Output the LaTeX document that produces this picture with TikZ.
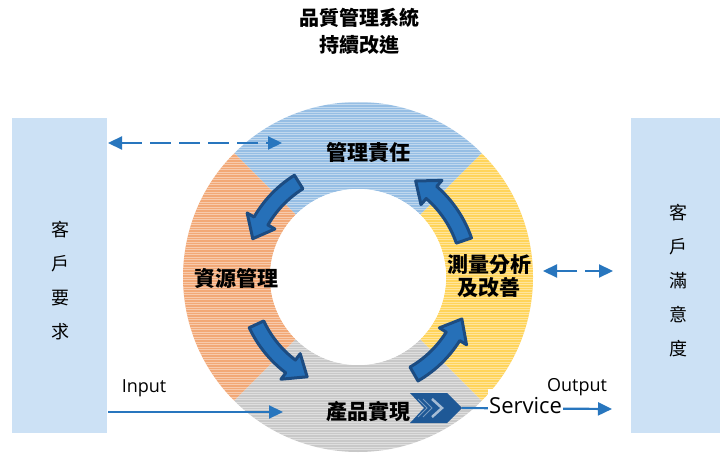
\documentclass[tikz,border=0pt]{standalone}
\usepackage{fontspec}
\setmainfont{Open Sans}
\newfontfamily\cjk{Noto Sans CJK TC}
\usetikzlibrary{calc,arrows.meta}
\definecolor{qblue}{RGB}{150,190,228}
\definecolor{qorange}{RGB}{242,168,118}
\definecolor{qgray}{RGB}{200,200,200}
\definecolor{qyellow}{RGB}{255,212,90}
\definecolor{sidebox}{RGB}{204,225,245}
\definecolor{linkblue}{RGB}{40,118,190}
\definecolor{arrfill}{RGB}{38,112,184}
\definecolor{arrdark}{RGB}{28,76,130}
\definecolor{chevdark}{RGB}{30,88,150}
\tikzset{
  sidepanel/.style={fill=sidebox, draw=none, inner sep=0pt},
  sidetext/.style={font=\cjk\fontsize{18}{34}\selectfont, align=center, inner sep=0pt},
  ringlabel/.style={font=\cjk\bfseries\fontsize{21}{23}\selectfont, align=center, inner sep=0pt},
  titletext/.style={font=\cjk\bfseries\fontsize{20}{27}\selectfont, align=center, inner sep=0pt},
  flowlabel/.style={font=\fontsize{18}{20}\selectfont, inner sep=0pt},
  link/.style={draw=linkblue, line width=2.2pt, -{Triangle[length=14pt,width=13pt]}},
  duallink/.style={draw=linkblue, line width=2.2pt, {Triangle[length=14pt,width=13pt]}-{Triangle[length=14pt,width=13pt]}},
  cyclearrow/.style={fill=arrfill, draw=arrdark, line width=3pt, line join=round}
}
\begin{document}
\begin{tikzpicture}[x=1pt,y=1pt]
\useasboundingbox (0,0) rectangle (720,453);
\fill[white] (0,0) rectangle (720,453);
\coordinate (c) at (358,176);
% ring quadrants
\foreach \s/\e/\col in {45/135/qblue,135/225/qorange,225/315/qgray,-45/45/qyellow}{
  \fill[\col] ($(c)+(\s:175pt)$) arc[start angle=\s,end angle=\e,radius=175pt]
    -- ($(c)+(\e:88pt)$) arc[start angle=\e,end angle=\s,radius=88pt] -- cycle;
}
% stripes
\begin{scope}
  \clip (c) circle[radius=175pt];
  \foreach \yy in {1,3.5,...,356}
    \draw[white,opacity=0.4,line width=0.9pt] (170,\yy) -- (550,\yy);
\end{scope}
\fill[white] (c) circle[radius=88pt];
% side panels
\node[sidepanel, minimum width=95pt, minimum height=315pt] (lbox) at (59.5,177.5) {};
\node[sidepanel, minimum width=89pt, minimum height=315pt] (rbox) at (675.5,177.5) {};
\node[sidetext] (ltext) at (60,172) {客\\戶\\要\\求};
\node[sidetext] (rtext) at (678,172) {客\\戶\\滿\\意\\度};
% title
\node[titletext] (title) at (359,422) {品質管理系統\\持續改進};
% cycle arrows
\foreach \a/\t in {19/59,122/160,205/243,300/338}{
  \pgfmathsetmacro\b{\t-10}
  \filldraw[cyclearrow] ($(c)+(\a:120pt)$) arc[start angle=\a,end angle=\b,radius=120pt]
    -- ($(c)+(\b:128pt)$) -- ($(c)+(\t:112pt)$) -- ($(c)+(\b:96pt)$)
    -- ($(c)+(\b:104pt)$) arc[start angle=\b,end angle=\a,radius=104pt] -- cycle;
}
% ring labels
\node[ringlabel] (resp) at (368,301) {管理責任};
\node[ringlabel] (res) at (236,175) {資源管理};
\node[ringlabel] (meas) at (489,176.5) {測量分析\\及改善};
\node[ringlabel] (prod) at (368,41) {產品實現};
% connectors
\coordinate (d1) at (108,310);
\coordinate (d2) at (282,310);
\draw[duallink, dash pattern=on 21pt off 8pt] (d1) -- (d2);
\coordinate (m1) at (543,182);
\coordinate (m2) at (577,182);
\coordinate (m3) at (585,182);
\coordinate (m4) at (613,182);
\draw[link] (m2) -- (m1);
\draw[link] (m3) -- (m4);
\coordinate (in1) at (108,41);
\coordinate (in2) at (283,41);
\draw[link] (in1) -- (in2);
\node[flowlabel] (input) at (144,65) {Input};
% chevron
\fill[chevdark] (410,60) -- (447,60) -- (462,45) -- (447,30) -- (410,30) -- (424,45) -- cycle;
\draw[white!60!chevdark, line width=2.5pt] (432,54) -- (442,45) -- (432,36);
\draw[white!40!chevdark, line width=0.8pt] (418,54) -- (427,45) -- (418,36);
\draw[white!40!chevdark, line width=0.8pt] (423,54) -- (432,45) -- (423,36);
\coordinate (chev) at (462,45);
\coordinate (out2) at (612,44);
\draw[link] (chev) -- (out2);
\node[font=\fontsize{22}{24}\selectfont, fill=white, inner xsep=1pt, minimum height=34pt, anchor=west] (service) at (488,47) {Service};
\node[flowlabel] (output) at (577,66) {Output};
\end{tikzpicture}
\end{document}
